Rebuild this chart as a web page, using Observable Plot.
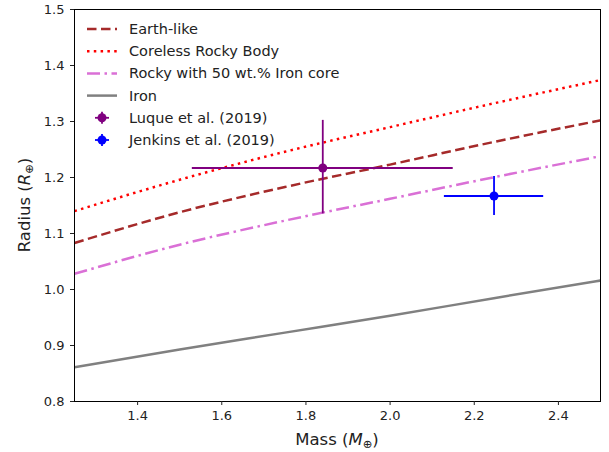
<!DOCTYPE html>
<html>
<head>
<meta charset="utf-8">
<script src="https://cdn.jsdelivr.net/npm/d3@7"></script>
<script src="https://cdn.jsdelivr.net/npm/@observablehq/plot@0.6"></script>
<style>
  html, body { margin: 0; padding: 0; background: #fff; }
  #chart { width: 609px; height: 452px; }
</style>
</head>
<body>
<div id="chart"></div>
<script>
// ---- data ----
const mass = [1.25, 1.5, 1.75, 2.0, 2.25, 2.5];
const earthLike = [1.083, 1.138, 1.183, 1.223, 1.264, 1.302];
const coreless = [1.140, 1.196, 1.246, 1.290, 1.333, 1.374];
const iron50 = [1.028, 1.080, 1.123, 1.162, 1.201, 1.238];
const ironOnly = [0.861, 0.893, 0.923, 0.953, 0.985, 1.016];

const obsNames = ["Luque et al. (2019)", "Jenkins et al. (2019)"];
const obsMass = [1.84, 2.247];
const obsMassErr = [0.31, 0.118];
const obsRadius = [1.217, 1.167];
const obsRadiusErrUp = [0.085, 0.035];
const obsRadiusErrDn = [0.082, 0.035];
const obsColors = ["#800080", "#0000ff"];

const modelNames = ["Earth-like", "Coreless Rocky Body", "Rocky with 50 wt.% Iron core", "Iron"];
const modelValues = [earthLike, coreless, iron50, ironOnly];
const modelColors = ["#a52a2a", "#ff0000", "#da70d6", "#808080"];
const modelDash = ["9.5,4.5", "2.5,4.3", "13,4.5,2.5,4.5", null];

const xTicks = [1.4, 1.6, 1.8, 2.0, 2.2, 2.4];
const yTicks = [0.8, 0.9, 1.0, 1.1, 1.2, 1.3, 1.4, 1.5];

// ---- build tables ----
const obs = obsNames.map((n, i) => ({
  name: n, m: obsMass[i], r: obsRadius[i],
  m1: obsMass[i] - obsMassErr[i], m2: obsMass[i] + obsMassErr[i],
  r1: obsRadius[i] - obsRadiusErrDn[i], r2: obsRadius[i] + obsRadiusErrUp[i],
  color: obsColors[i]
}));

const lineMarks = modelNames.map((n, k) => Plot.line(
  mass.map((m, i) => ({m, r: modelValues[k][i]})),
  {x: "m", y: "r", stroke: modelColors[k], strokeWidth: 2.5,
   strokeDasharray: modelDash[k] || undefined, strokeLinecap: "butt",
   curve: "monotone-x", clip: true}
));

const W = 609, H = 452;
const chart = Plot.plot({
  width: W, height: H,
  marginLeft: 74, marginRight: 9, marginTop: 9, marginBottom: 51,
  style: {fontFamily: "DejaVu Sans, sans-serif", fontSize: "13px", color: "#222", background: "#fff"},
  x: {domain: [1.25, 2.5]},
  y: {domain: [0.8, 1.5]},
  marks: [
    ...lineMarks,
    Plot.ruleY(obs, {y: "r", x1: "m1", x2: "m2", stroke: "color", strokeWidth: 1.8}),
    Plot.ruleX(obs, {x: "m", y1: "r1", y2: "r2", stroke: "color", strokeWidth: 1.8}),
    Plot.dot(obs, {x: "m", y: "r", fill: "color", r: 4.5}),
    Plot.frame({stroke: "#000", strokeWidth: 1}),
    Plot.axisX({ticks: xTicks, tickFormat: d => d.toFixed(1), tickSize: 4, tickPadding: 5, label: null, fontSize: 13}),
    Plot.axisY({ticks: yTicks, tickFormat: d => d.toFixed(1), tickSize: 4, tickPadding: 6, label: null, fontSize: 13})
  ]
});
document.getElementById("chart").appendChild(chart);

// ---- axis labels with math notation ----
const svg = d3.select(chart);
const xl = svg.append("text")
  .attr("x", 337).attr("y", 445)
  .attr("text-anchor", "middle")
  .attr("font-size", 16.5).attr("fill", "#222");
xl.append("tspan").text("Mass (");
xl.append("tspan").attr("font-style", "italic").text("M");
xl.append("tspan").attr("font-size", 11.5).attr("dy", 3).text("⊕");
xl.append("tspan").attr("dy", -3).text(")");

const yl = svg.append("text")
  .attr("transform", "translate(30,205) rotate(-90)")
  .attr("text-anchor", "middle")
  .attr("font-size", 16.5).attr("fill", "#222");
yl.append("tspan").text("Radius (");
yl.append("tspan").attr("font-style", "italic").text("R");
yl.append("tspan").attr("font-size", 11.5).attr("dy", 3).text("⊕");
yl.append("tspan").attr("dy", -3).text(")");

// ---- legend ----
const leg = svg.append("g").attr("font-size", 14.5).attr("fill", "#222").attr("text-anchor", "start");
const rowY = i => 29 + i * 22.2;
modelNames.forEach((n, i) => {
  const y = rowY(i);
  leg.append("line").attr("x1", 87).attr("x2", 117).attr("y1", y).attr("y2", y)
    .attr("stroke", modelColors[i]).attr("stroke-width", 2.5)
    .attr("stroke-dasharray", modelDash[i] || null);
  leg.append("text").attr("x", 129).attr("y", y).attr("dy", "0.35em").attr("text-anchor", "start").text(n);
});
obsNames.forEach((n, j) => {
  const y = rowY(4 + j), cx = 102;
  leg.append("line").attr("x1", cx - 7).attr("x2", cx + 7).attr("y1", y).attr("y2", y)
    .attr("stroke", obsColors[j]).attr("stroke-width", 1.8);
  leg.append("line").attr("x1", cx).attr("x2", cx).attr("y1", y - 6).attr("y2", y + 6)
    .attr("stroke", obsColors[j]).attr("stroke-width", 1.8);
  leg.append("circle").attr("cx", cx).attr("cy", y).attr("r", 4.5).attr("fill", obsColors[j]);
  leg.append("text").attr("x", 129).attr("y", y).attr("dy", "0.35em").attr("text-anchor", "start").text(n);
});
</script>
</body>
</html>
